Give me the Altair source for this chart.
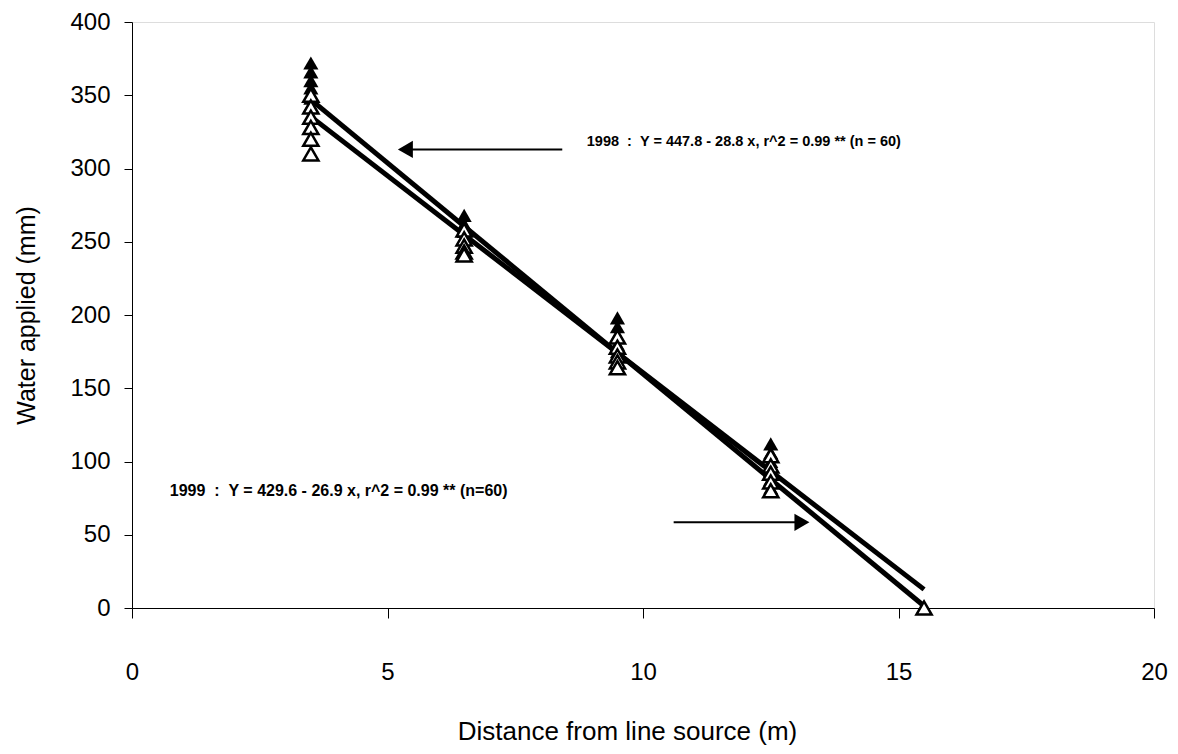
import altair as alt
import pandas as pd

# Observed points (filled triangles / open triangles)
filled_x = [3.5]*6 + [6.5]*4 + [9.5]*5 + [12.5]*6
filled_y = [372, 366, 360, 355, 348, 343,
            268, 262, 257, 253,
            198, 192, 186, 180, 175,
            112, 106, 100, 94, 88, 82]
open_x = [3.5]*6 + [6.5]*5 + [9.5]*5 + [12.5]*5 + [15.5]
open_y = [350, 342, 335, 328, 320, 310,
          258, 252, 247, 243, 241,
          185, 178, 172, 168, 164,
          104, 97, 92, 86, 80,
          0]

# Regression line endpoints
line_x = [3.5, 15.5]
line_1998 = [347.0, 1.4]
line_1999 = [335.4, 12.7]

# Annotations
ann_text = ["1998\u00a0\u00a0:\u00a0\u00a0Y = 447.8 - 28.8 x, r^2 = 0.99 ** (n = 60)",
            "1999\u00a0\u00a0:\u00a0\u00a0Y = 429.6 - 26.9 x, r^2 = 0.99 ** (n=60)"]
ann_x = [8.9, 0.74]
ann_y = [318, 80]
ann_size = [14.5, 16]
arrow_x1 = [8.42, 10.6]
arrow_x2 = [5.35, 13.11]
arrow_y = [313, 58.5]
arrow_shape = ["triangle-left", "triangle-right"]

FONT = "Liberation Sans"

xs = alt.Scale(domain=[0, 20], nice=False, zero=False)
ys = alt.Scale(domain=[0, 400], nice=False)

x_axis = alt.Axis(values=[0, 5, 10, 15, 20], grid=False, tickSize=10, labelPadding=42,
                  labelFontSize=24, labelFont=FONT, labelColor="black",
                  title="Distance from line source (m)", titleFontSize=26, titleFont=FONT,
                  titleFontWeight="normal", titleColor="black", titlePadding=34,
                  titleX=495, domainColor="black", tickColor="black", labelFlush=False)
y_axis = alt.Axis(values=[0, 50, 100, 150, 200, 250, 300, 350, 400], grid=False,
                  tickSize=8, labelPadding=14, labelFontSize=24, labelFont=FONT,
                  labelColor="black", title="Water applied (mm)", titleFontSize=25,
                  titleFont=FONT, titleFontWeight="normal", titleColor="black",
                  titlePadding=30, domainColor="black", tickColor="black")

df_f = pd.DataFrame({"x": filled_x, "y": filled_y})
df_o = pd.DataFrame({"x": open_x, "y": open_y})
df_l = pd.DataFrame({"x": line_x * 2, "y": line_1998 + line_1999,
                     "yr": ["1998"]*2 + ["1999"]*2})
df_a = pd.DataFrame({"t": ann_text, "x": ann_x, "y": ann_y, "fs": ann_size})
df_r = pd.DataFrame({"x1": arrow_x1, "x2": arrow_x2, "y": arrow_y, "s": arrow_shape})

base_x = alt.X("x:Q", scale=xs, axis=x_axis)
base_y = alt.Y("y:Q", scale=ys, axis=y_axis)

filled = alt.Chart(df_f).mark_point(shape="triangle-up", filled=True, color="black",
                                    size=230, opacity=1).encode(x=base_x, y=base_y)
opened = alt.Chart(df_o).mark_point(shape="triangle-up", filled=False, fill="white",
                                    stroke="black", strokeWidth=2.5, size=230,
                                    opacity=1).encode(x="x:Q", y="y:Q")
lines = alt.Chart(df_l).mark_line(color="black", strokeWidth=5).encode(
    x="x:Q", y="y:Q", detail="yr:N")
texts = alt.Chart(df_a).mark_text(align="left", baseline="middle",
                                  font=FONT, fontWeight="bold", color="black").encode(
    x="x:Q", y="y:Q", text="t:N", size=alt.Size("fs:Q", scale=None, legend=None))
rules = alt.Chart(df_r).mark_rule(color="black", strokeWidth=2).encode(
    x="x1:Q", x2="x2:Q", y="y:Q")
heads = alt.Chart(df_r).mark_point(filled=True, color="black", size=300, opacity=1).encode(
    x="x2:Q", y="y:Q", shape=alt.Shape("s:N", scale=None, legend=None))

chart = alt.layer(lines, filled, opened, rules, heads, texts).properties(
    width=1022, height=586,
    autosize=alt.AutoSizeParams(type="none"),
    padding={"left": 124, "top": 14, "right": 16, "bottom": 138},
).configure_view(stroke=None).configure(background="white")

chart.save("out.html", embed_options={"renderer": "svg", "actions": False})
